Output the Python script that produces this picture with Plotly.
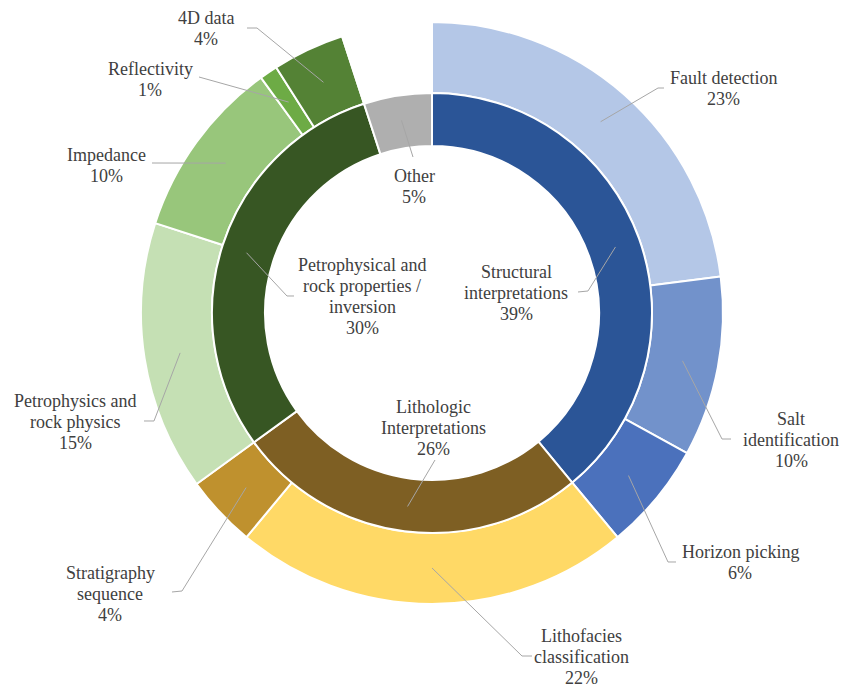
import math
import plotly.graph_objects as go

W, H = 853, 684
OFF = 8  # page body margin of the html page

# ---------------- data ----------------
inner_labels = [["Structural", "interpretations"], ["Lithologic", "Interpretations"],
                ["Petrophysical and", "rock properties /", "inversion"], ["Other"]]
inner_values = [39, 26, 30, 5]

outer_labels = [["Fault detection"], ["Salt", "identification"], ["Horizon picking"],
                ["Lithofacies", "classification"], ["Stratigraphy", "sequence"],
                ["Petrophysics and", "rock physics"], ["Impedance"], ["Reflectivity"],
                ["4D data"], []]
outer_values = [23, 10, 6, 22, 4, 15, 10, 1, 4, 5]   # last = empty gap above "Other"

# ---------------- styles ----------------
inner_colors = ["#2B5597", "#7E5F23", "#375623", "#AFAFAF"]
outer_colors = ["#B4C7E7", "#7292CB", "#4B71BC", "#FFD966", "#BF912E",
                "#C5E0B4", "#98C67B", "#6DAB45", "#548235", "rgba(0,0,0,0)"]

CX, CY = 432, 313          # centre in px
R_OUT, R_MID, R_IN = 291, 220, 167


def px(x, y):
    return (x - OFF) / W, 1 - (y - OFF) / H


fig = go.Figure()

x0, y1 = px(CX - R_OUT, CY - R_OUT)
x1, y0 = px(CX + R_OUT, CY + R_OUT)
fig.add_trace(go.Pie(values=outer_values, labels=[f"o{i}" for i in range(len(outer_values))],
                     sort=False, direction="clockwise", rotation=0,
                     hole=R_MID / R_OUT, textinfo="none", hoverinfo="skip",
                     marker=dict(colors=outer_colors, line=dict(color="white", width=2)),
                     domain=dict(x=[x0, x1], y=[y0, y1]), showlegend=False))
x0, y1 = px(CX - R_MID, CY - R_MID)
x1, y0 = px(CX + R_MID, CY + R_MID)
fig.add_trace(go.Pie(values=inner_values, labels=[f"i{i}" for i in range(len(inner_values))],
                     sort=False, direction="clockwise", rotation=0,
                     hole=R_IN / R_MID, textinfo="none", hoverinfo="skip",
                     marker=dict(colors=inner_colors, line=dict(color="white", width=2)),
                     domain=dict(x=[x0, x1], y=[y0, y1]), showlegend=False))

# ---------------- labels & leader lines (layout) ----------------
def mid_points(values, r):
    pts, acc, tot = [], 0, sum(values)
    for v in values:
        a = 2 * math.pi * (acc + v / 2) / tot
        pts.append((CX + r * math.sin(a), CY - r * math.cos(a)))
        acc += v
    return pts


LINE_H = 21
outer_pos = [(723, 78), (791, 419), (740, 552), (581, 636), (110, 573),
             (75, 401), (106, 155), (150, 69), (206, 18)]
outer_path = [[(658, 88), (664, 88)], [(722, 439), (731, 439)], [(668, 562), (676, 562)],
              [(522, 656), (532, 656)], [(182, 591), (172, 592)], [(154, 421), (144, 421)],
              [(152, 163)], [(199, 77)], [(257, 28), (247, 28)]]
inner_pos = [(516, 272), (433, 407), (362, 265), (414, 176)]
inner_path = [[(588, 291), (578, 292)], [(435, 460)], [(287, 296), (294, 296)], [(413, 157)]]

font = dict(family="Liberation Serif, Times New Roman, serif", size=18, color="#404040")
anns, shapes = [], []


def add(labels, values, pos, paths, r):
    anchors = mid_points(values, r)
    for i, p in enumerate(pos):
        lines = labels[i] + [f"{values[i]}%"]
        for k, t in enumerate(lines):
            x, y = px(p[0], p[1] + k * LINE_H)
            anns.append(dict(x=x, y=y, xref="paper", yref="paper", showarrow=False,
                             text=t, font=font, xanchor="center", yanchor="middle"))
        pts = [anchors[i]] + paths[i]
        d = "M " + " L ".join(f"{px(a, b)[0]:.5f},{px(a, b)[1]:.5f}" for a, b in pts)
        shapes.append(dict(type="path", path=d, xref="paper", yref="paper",
                           line=dict(color="#A6A6A6", width=1)))


add(outer_labels, outer_values, outer_pos, outer_path, 255)
add(inner_labels, inner_values, inner_pos, inner_path, 195)

fig.update_layout(width=W, height=H, margin=dict(l=0, r=0, t=0, b=0),
                  paper_bgcolor="white", plot_bgcolor="white",
                  annotations=anns, shapes=shapes)
fig.write_html("out.html")
